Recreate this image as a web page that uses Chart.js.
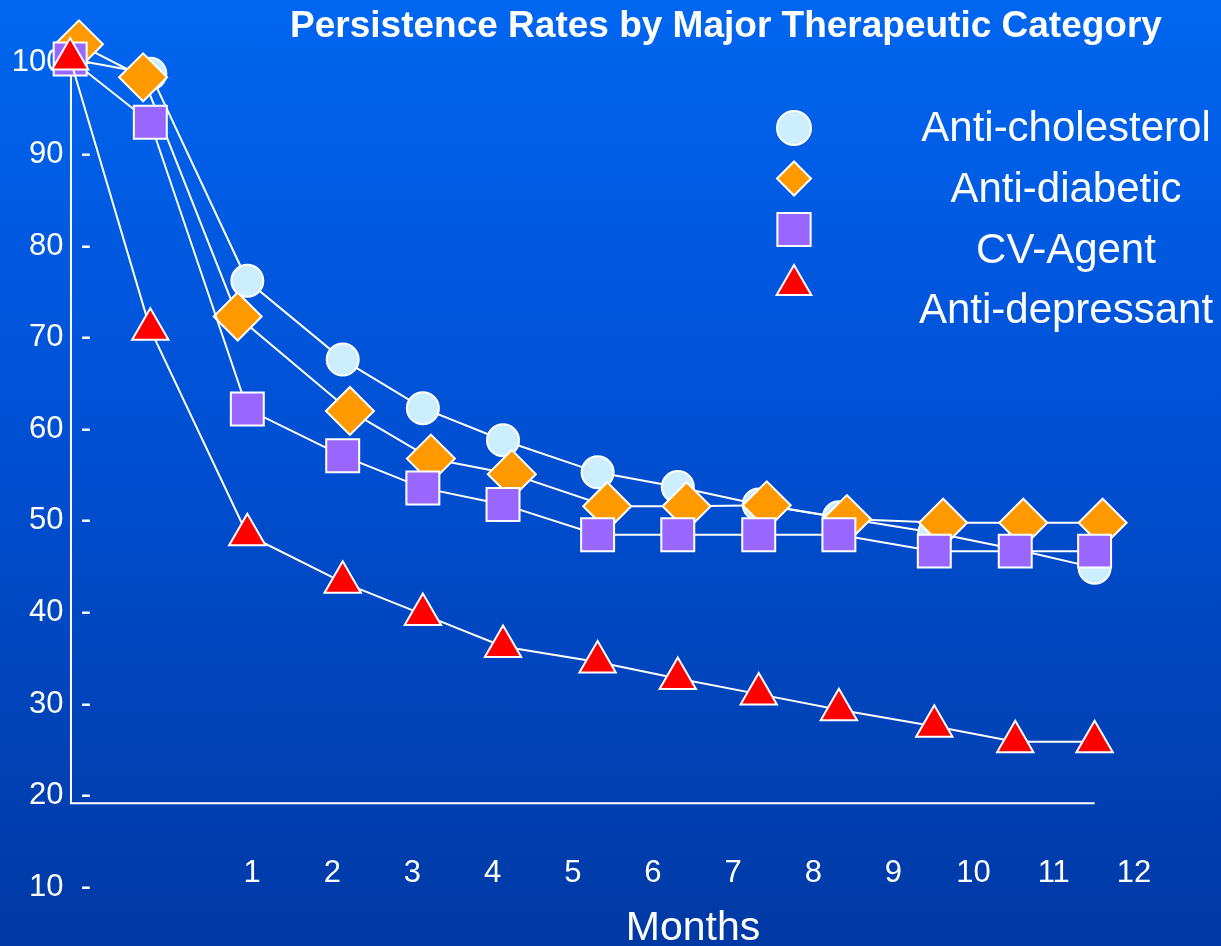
<!DOCTYPE html>
<html>
<head>
<meta charset="utf-8">
<title>Persistence Rates by Major Therapeutic Category</title>
<script src="https://cdn.jsdelivr.net/npm/chart.js@4.4.1/dist/chart.umd.min.js"></script>
<style>
  html, body { margin: 0; padding: 0; }
  body {
    width: 1221px;
    height: 946px;
    overflow: hidden;
    background: linear-gradient(to bottom, #0066f0 0%, #0050d4 45%, #0039a4 100%);
  }
  #wrap { position: relative; width: 1221px; height: 946px; }
</style>
</head>
<body>
<div id="wrap"><canvas id="persistenceChart"></canvas></div>
<script>
const seriesNames = ['Anti-cholesterol', 'Anti-diabetic', 'CV-Agent', 'Anti-depressant'];

// where the markers sit along the month axis (the slide does not put them on the labels)
const monthPos = [-1.27, -0.27, 0.94, 2.13, 3.13, 4.13, 5.31, 6.31, 7.32, 8.32, 9.51, 10.52, 11.51];
const monthPosDiabetic = [-1.16, -0.36, 0.82, 2.22, 3.23, 4.24, 5.43, 6.42, 7.42, 8.42, 9.62, 10.62, 11.61];

const antiCholesterol = [100.4, 98.8, 76.2, 67.6, 62.3, 58.8, 55.3, 53.7, 51.8, 50.4, 48.7, 46.9, 44.9];
const antiDiabetic = [102.0, 98.4, 72.3, 62.0, 56.8, 55.1, 51.6, 51.6, 51.7, 50.2, 49.8, 49.8, 49.8];
const cvAgent = [100.4, 93.5, 62.2, 57.1, 53.6, 51.8, 48.5, 48.5, 48.5, 48.5, 46.7, 46.7, 46.7];
const antiDepressant = [100.4, 70.9, 48.5, 43.3, 39.8, 36.3, 34.6, 32.8, 31.1, 29.4, 27.6, 25.9, 25.9];

const monthTicks = [1, 2, 3, 4, 5, 6, 7, 8, 9, 10, 11, 12];
const percentTicks = [10, 20, 30, 40, 50, 60, 70, 80, 90, 100];
const axisBase = 19.2;   // the drawn x axis sits a little under 20
const axisLeft = -1.26;  // the drawn y axis, left of the tick dashes

const FONT = "'Liberation Sans', Arial, Helvetica, sans-serif";

function toPoints(xs, ys) {
    return xs.map(function(m, i) { return { x: m, y: ys[i] }; });
}

const slideDecor = {
    id: 'slideDecor',
    beforeDatasetsDraw(chart) {
        const ctx = chart.ctx;
        const x = chart.scales.x;
        const y = chart.scales.y;
        const base = y.getPixelForValue(axisBase);
        const left = x.getPixelForValue(axisLeft);
        ctx.save();
        ctx.strokeStyle = '#ffffff';
        ctx.lineWidth = 2;
        ctx.beginPath();
        ctx.moveTo(left, y.getPixelForValue(100));
        ctx.lineTo(left, base);
        ctx.lineTo(x.getPixelForValue(monthPos[monthPos.length - 1]), base);
        ctx.stroke();
        ctx.restore();
    },
    afterDraw(chart) {
        const ctx = chart.ctx;
        const x = chart.scales.x;
        ctx.save();
        ctx.fillStyle = '#ffffff';
        ctx.textAlign = 'center';
        ctx.textBaseline = 'alphabetic';

        ctx.font = 'bold 37px ' + FONT;
        ctx.fillText('Persistence Rates by Major Therapeutic Category', 726, 37);

        ctx.font = '41px ' + FONT;
        ctx.fillText('Months', x.getPixelForValue(6.5), 940);

        // legend: markers on the left, names centred on the right
        const markerY = [128, 178.5, 229.5, 285];
        const textY = [141, 202, 263, 323];
        chart.data.datasets.forEach(function(ds, i) {
            ctx.fillStyle = ds.pointBackgroundColor;
            ctx.strokeStyle = '#ffffff';
            ctx.lineWidth = 2;
            Chart.helpers.drawPoint(ctx, {
                pointStyle: ds.pointStyle,
                radius: ds.legendRadius,
                borderWidth: 2,
                rotation: 0
            }, 794, markerY[i]);
            ctx.fillStyle = '#ffffff';
            ctx.font = '42px ' + FONT;
            ctx.fillText(ds.label, 1066, textY[i]);
        });
        ctx.restore();
    }
};

const commonLine = {
    borderColor: '#ffffff',
    borderWidth: 2,
    pointBorderColor: '#ffffff',
    pointBorderWidth: 2,
    tension: 0,
    clip: false
};

new Chart(document.getElementById('persistenceChart'), {
    type: 'line',
    data: {
        datasets: [
            Object.assign({}, commonLine, {
                label: seriesNames[0],
                data: toPoints(monthPos, antiCholesterol),
                pointStyle: 'circle',
                pointRadius: 16,
                legendRadius: 17,
                pointBackgroundColor: '#cceeff',
                order: 3
            }),
            Object.assign({}, commonLine, {
                label: seriesNames[1],
                data: toPoints(monthPosDiabetic, antiDiabetic),
                pointStyle: 'rectRot',
                pointRadius: 24,
                legendRadius: 17,
                pointBackgroundColor: '#ff9900',
                order: 2
            }),
            Object.assign({}, commonLine, {
                label: seriesNames[2],
                data: toPoints(monthPos, cvAgent),
                pointStyle: 'rect',
                pointRadius: 23.3,
                legendRadius: 23.5,
                pointBackgroundColor: '#9966ff',
                order: 1
            }),
            Object.assign({}, commonLine, {
                label: seriesNames[3],
                data: toPoints(monthPos, antiDepressant),
                pointStyle: 'triangle',
                pointRadius: 21,
                legendRadius: 20,
                pointBackgroundColor: '#ff0000',
                order: 0
            })
        ]
    },
    options: {
        responsive: true,
        maintainAspectRatio: false,
        animation: false,
        events: [],
        layout: { padding: { left: 0, right: 31, top: 21.1, bottom: 58.5 } },
        plugins: {
            legend: { display: false },
            tooltip: { enabled: false },
            title: { display: false }
        },
        scales: {
            x: {
                type: 'linear',
                min: -1.01,
                max: 12.7,
                grid: { display: false, drawTicks: false },
                border: { display: false },
                afterFit: function(scale) { scale.height = 0; },
                afterBuildTicks: function(scale) {
                    scale.ticks = monthTicks.map(function(v) { return { value: v }; });
                },
                ticks: {
                    mirror: true,
                    padding: -5,
                    autoSkip: false,
                    maxRotation: 0,
                    color: '#ffffff',
                    font: { family: FONT, size: 31 },
                    callback: function(v) { return String(v); }
                }
            },
            y: {
                min: 10,
                max: 104,
                grid: { display: false, drawTicks: false },
                border: { display: false },
                afterFit: function(scale) { scale.width = 91; },
                afterBuildTicks: function(scale) {
                    scale.ticks = percentTicks.map(function(v) { return { value: v }; });
                },
                ticks: {
                    padding: 0,
                    color: '#ffffff',
                    font: { family: FONT, size: 31 },
                    callback: function(v) { return v + '  -'; }
                }
            }
        }
    },
    plugins: [slideDecor]
});
</script>
</body>
</html>
